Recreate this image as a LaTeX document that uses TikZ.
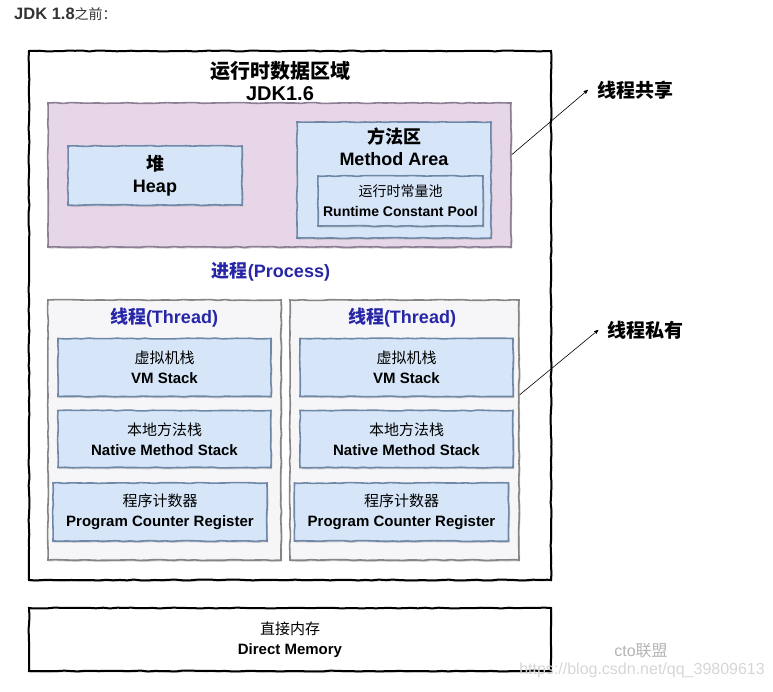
\documentclass[tikz,border=0pt]{standalone}
\usepackage{fontspec}
\setmainfont{Liberation Sans}
\newfontfamily\cjk{Noto Sans CJK SC}
\usepackage{xcolor}
\usetikzlibrary{arrows, shadows, decorations.pathmorphing, calc}

\definecolor{captext}{HTML}{333333}
\definecolor{pinkfill}{HTML}{E6D6E8}
\definecolor{pinkline}{HTML}{8C7E94}
\definecolor{bluefill}{HTML}{D6E6F8}
\definecolor{blueline}{HTML}{7088A8}
\definecolor{threadfill}{HTML}{F6F6F8}
\definecolor{threadline}{HTML}{858585}
\definecolor{procblue}{HTML}{2626A6}
\definecolor{marktext}{HTML}{B4B4B4}
\definecolor{urltext}{HTML}{D6D6D6}

\tikzset{
    rough/.style={decorate, decoration={random steps, segment length=7pt, amplitude=0.45pt}},
    boxshadow/.style={drop shadow={shadow xshift=1.2pt, shadow yshift=-1.6pt, fill=black!35}},
    outerbox/.style={rough, draw=black, line width=2pt, fill=white, boxshadow, inner sep=0pt},
    sharedbox/.style={rough, draw=pinkline, line width=1.6pt, fill=pinkfill, boxshadow, inner sep=0pt},
    areabox/.style={rough, draw=blueline, line width=1.6pt, fill=bluefill, boxshadow, inner sep=0pt, align=center},
    threadbox/.style={rough, draw=threadline, line width=1.6pt, fill=threadfill, boxshadow, inner sep=0pt},
    titletext/.style={align=center, font=\fontsize{20}{22}\selectfont\bfseries},
    bigtext/.style={font=\fontsize{18}{22}\selectfont\bfseries},
    midtext/.style={font=\fontsize{15}{20}\selectfont\bfseries},
    smalltext/.style={font=\fontsize{14}{20}\selectfont\bfseries},
    bluetext/.style={text=procblue, font=\fontsize{18}{22}\selectfont\bfseries},
    sidelbl/.style={inner xsep=9pt, font=\fontsize{19}{22}\selectfont\bfseries\cjk},
    tip/.style={->, line width=0.6pt}
}

\begin{document}
\begin{tikzpicture}[x=1pt, y=-1pt, >=stealth']
    \useasboundingbox (0,0) rectangle (773,691);
    \node[anchor=west, inner sep=0pt, text=captext, font=\fontsize{16.5}{18}\selectfont\bfseries]
        (caption) at (14,14) {JDK 1.8{\cjk\mdseries\fontsize{14}{18}\selectfont 之前：}};

    % runtime data area
    \node[outerbox, minimum width=522, minimum height=529] (runtime) at (290,315.5) {};
    \node[titletext] (rtitle) at (280,81) {{\cjk 运行时数据区域}\\JDK1.6};

    % shared part
    \node[sharedbox, minimum width=463, minimum height=144] (shared) at (279.5,175) {};
    \node[areabox, bigtext, minimum width=174, minimum height=59] (heap) at (155,175.5) {{\cjk 堆}\\Heap};
    \node[areabox, minimum width=194, minimum height=116] (method) at (394,180) {};
    \node[bigtext, align=center] (methodtxt) at (394,147) {{\cjk 方法区}\\Method Area};
    \node[areabox, smalltext, minimum width=165, minimum height=50] (pool) at (400.5,201)
        {{\cjk\mdseries 运行时常量池}\\Runtime Constant Pool};

    \node[bluetext] (process) at (271,272) {{\cjk 进程}(Process)};

    % thread 1
    \node[threadbox, minimum width=233, minimum height=260] (thread1) at (164.5,430) {};
    \node[bluetext] (thread1txt) at (164,318) {{\cjk 线程}(Thread)};
    \node[areabox, midtext, minimum width=213, minimum height=58] (vm1) at (164.5,367.5) {{\cjk\mdseries 虚拟机栈}\\VM Stack};
    \node[areabox, midtext, minimum width=213, minimum height=57] (native1) at (164.5,439) {{\cjk\mdseries 本地方法栈}\\Native Method Stack};
    \node[areabox, midtext, minimum width=214, minimum height=58] (pc1) at (160,512) {{\cjk\mdseries 程序计数器}\\Program Counter Register};

    % thread 2
    \node[threadbox, minimum width=229, minimum height=260] (thread2) at (404.5,430) {};
    \node[bluetext] (thread2txt) at (402,318) {{\cjk 线程}(Thread)};
    \node[areabox, midtext, minimum width=213, minimum height=58] (vm2) at (406.5,367.5) {{\cjk\mdseries 虚拟机栈}\\VM Stack};
    \node[areabox, midtext, minimum width=213, minimum height=57] (native2) at (406.5,439) {{\cjk\mdseries 本地方法栈}\\Native Method Stack};
    \node[areabox, midtext, minimum width=214, minimum height=58] (pc2) at (401.5,512) {{\cjk\mdseries 程序计数器}\\Program Counter Register};

    % direct memory
    \node[outerbox, minimum width=522, minimum height=63, align=center, midtext] (direct) at (290,639.5)
        {{\cjk\mdseries 直接内存}\\Direct Memory};

    % side labels
    \node[sidelbl] (sharelbl) at (635,90) {线程共享};
    \node[sidelbl] (privlbl) at (645.5,330) {线程私有};
    \draw[tip] ($(shared.north east)!0.36!(shared.south east)$) -- (sharelbl.west);
    \draw[tip] ($(thread2.north east)!0.365!(thread2.south east)$) -- (privlbl.west);

    % watermark
    \node[text=marktext, font=\fontsize{16}{18}\selectfont] (mark) at (641,651) {cto{\cjk 联盟}};
    \node[anchor=east, inner sep=0pt, text=urltext, font=\fontsize{16}{18}\selectfont] (url) at (765,670) {https://blog.csdn.net/qq\_39809613};
\end{tikzpicture}
\end{document}
